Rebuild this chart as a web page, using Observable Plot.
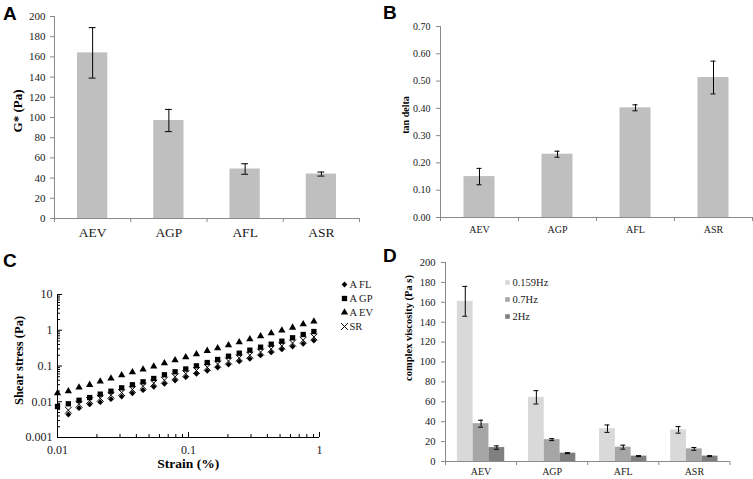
<!DOCTYPE html>
<html><head><meta charset="utf-8">
<script src="https://cdn.jsdelivr.net/npm/d3@7"></script>
<script src="https://cdn.jsdelivr.net/npm/@observablehq/plot@0.6"></script>
<style>
body{margin:0;background:#fff;}
#root{position:relative;width:753px;height:479px;overflow:hidden;background:#fff;}
#root svg{position:absolute;}
</style></head><body><div id="root"></div>
<script>
// ---------- data ----------
const categories = ["AEV", "AGP", "AFL", "ASR"];
const gStar = [164, 97, 49, 44];
const gStarErr = [25, 11, 5.2, 2];
const tanDelta = [0.150, 0.232, 0.402, 0.513];
const tanDeltaErr = [0.030, 0.011, 0.011, 0.060];
const frequencies = ["0.159Hz", "0.7Hz", "2Hz"];
const visc0159 = [161, 64.5, 33, 31.8];
const visc0159Err = [15, 6.7, 3.7, 3.3];
const visc07 = [38, 22, 14.4, 12.7];
const visc07Err = [3.5, 1, 2, 1.4];
const visc2 = [14, 8.4, 5.4, 5.4];
const visc2Err = [1.7, 0.5, 0.5, 0.5];
const seriesNames = ["A FL", "A GP", "A EV", "SR"];
const strain = [0.01, 0.0121, 0.0146, 0.0176, 0.0212, 0.0256, 0.0309, 0.0373, 0.045, 0.0543, 0.0655, 0.079, 0.0953, 0.115, 0.139, 0.167, 0.202, 0.244, 0.294, 0.355, 0.428, 0.516, 0.623, 0.751, 0.906];
const stressAFL = [null, 0.0044, 0.0066, 0.0084, 0.0097, 0.0118, 0.0140, 0.0173, 0.0210, 0.0262, 0.0318, 0.0393, 0.0486, 0.0605, 0.0734, 0.0908, 0.110, 0.134, 0.159, 0.197, 0.239, 0.290, 0.351, 0.418, 0.516];
const stressAGP = [0.00736, 0.00877, 0.0110, 0.0131, 0.0163, 0.0197, 0.0245, 0.0298, 0.0361, 0.0447, 0.0567, 0.0689, 0.0824, 0.101, 0.125, 0.152, 0.188, 0.228, 0.277, 0.336, 0.407, 0.494, 0.615, 0.76, 0.92];
const stressAEV = [0.0173, 0.0197, 0.0251, 0.0298, 0.0368, 0.0447, 0.0553, 0.0671, 0.0798, 0.0968, 0.120, 0.145, 0.176, 0.215, 0.266, 0.315, 0.382, 0.463, 0.562, 0.682, 0.827, 0.984, 1.19, 1.48, 1.76];
const stressSR = [null, 0.0058, 0.0085, 0.0108, 0.0125, 0.0152, 0.018, 0.022, 0.027, 0.033, 0.040, 0.050, 0.061, 0.075, 0.092, 0.113, 0.138, 0.168, 0.200, 0.246, 0.300, 0.365, 0.44, 0.53, 0.65];
const gStarTicks = [0, 20, 40, 60, 80, 100, 120, 140, 160, 180, 200];
const tanTicks = [0, 0.1, 0.2, 0.3, 0.4, 0.5, 0.6, 0.7];
const logYTicks = [0.001, 0.01, 0.1, 1, 10];
const logXTicks = [0.01, 0.1, 1];

// ---------- style ----------
const GRAY = "#8a8a8a", INK = "#1a1a1a";
const SERIF = '"Liberation Serif", "Times New Roman", serif';
const root = document.getElementById("root");
function place(svg, left, top) { svg.style.left = left + "px"; svg.style.top = top + "px"; root.appendChild(svg); }
const baseStyle = {fontFamily: SERIF, fontSize: "11px", color: INK, background: "transparent", overflow: "visible"};

function errorMarks(rows, capHalf) {
  const caps = rows.flatMap(d => [{...d, yc: d.value + d.err}, {...d, yc: d.value - d.err}]);
  return [
    Plot.ruleX(rows, {x: d => d.xc, y1: d => d.value - d.err, y2: d => d.value + d.err, stroke: "#000", strokeWidth: 1}),
    Plot.ruleY(caps, {y: "yc", x1: d => d.xc - capHalf, x2: d => d.xc + capHalf, stroke: "#000", strokeWidth: 1})
  ];
}
function catAxes(fontSize, pad) {
  return [
    Plot.ruleY([0], {stroke: GRAY}),
    Plot.axisX([0, 1, 2, 3, 4], {tickSize: 4, fill: "none", stroke: GRAY, label: null}),
    Plot.axisX([0.5, 1.5, 2.5, 3.5], {tickSize: 0, tickPadding: pad, fontSize, fill: INK, tickFormat: d => categories[Math.floor(d)], label: null})
  ];
}

// ---------- A ----------
const aRows = categories.map((c, i) => ({cat: c, i, xc: i + 0.5, value: gStar[i], err: gStarErr[i]}));
place(Plot.plot({
  width: 376, height: 240, marginLeft: 54, marginRight: 17, marginTop: 16, marginBottom: 22,
  style: baseStyle,
  x: {domain: [0, 4], label: null}, y: {domain: [0, 200], label: null},
  marks: [
    Plot.rectY(aRows, {x1: d => d.i, x2: d => d.i + 1, y: "value", fill: "#bfbfbf", insetLeft: 23, insetRight: 23}),
    ...errorMarks(aRows, 0.045),
    Plot.ruleX([0], {stroke: GRAY}),
    Plot.axisY(gStarTicks, {tickSize: 4, tickPadding: 5, stroke: GRAY, fill: INK, fontSize: 11, label: null}),
    ...catAxes(13.5, 9)
  ]
}), 0, 0);

// ---------- B ----------
const bRows = categories.map((c, i) => ({cat: c, i, xc: i + 0.5, value: tanDelta[i], err: tanDeltaErr[i]}));
place(Plot.plot({
  width: 377, height: 240, marginLeft: 64, marginRight: 1, marginTop: 26, marginBottom: 23,
  style: baseStyle,
  x: {domain: [0, 4], label: null}, y: {domain: [0, 0.7], label: null},
  marks: [
    Plot.rectY(bRows, {x1: d => d.i, x2: d => d.i + 1, y: "value", fill: "#bfbfbf", insetLeft: 23.5, insetRight: 23.5}),
    ...errorMarks(bRows, 0.032),
    Plot.ruleX([0], {stroke: GRAY}),
    Plot.axisY(tanTicks, {tickSize: 4, tickPadding: 6, stroke: GRAY, fill: INK, fontSize: 10, tickFormat: d3.format(".2f"), label: null}),
    ...catAxes(10, 8)
  ]
}), 376, 0);

// ---------- C ----------
const cStyles = [
  {name: "A FL", values: stressAFL, symbol: "diamond2", r: 2.6, filled: true},
  {name: "A GP", values: stressAGP, symbol: "square", r: 3.0, filled: true},
  {name: "A EV", values: stressAEV, symbol: "triangle", r: 2.7, filled: true},
  {name: "SR", values: stressSR, symbol: "times", r: 3.2, filled: false}
];
const cRows = cStyles.flatMap(s => strain.map((x, i) => ({series: s.name, strain: x, stress: s.values[i]})).filter(d => d.stress != null));
const yMinor = [0.001, 0.01, 0.1, 1].flatMap(d => [2, 3, 4, 5, 6, 7, 8, 9].map(k => d * k));
const xMinor = [0.01, 0.1].flatMap(d => [2, 3, 4, 5, 6, 7, 8, 9].map(k => d * k));
function symbolMark(data, s, extra = {}) {
  return Plot.dot(data, {...extra, symbol: s.symbol, r: s.r,
    fill: s.filled ? "#000" : "none", stroke: s.filled ? "none" : "#000", strokeWidth: 1});
}
place(Plot.plot({
  width: 376, height: 239, marginLeft: 57, marginRight: 57, marginTop: 54, marginBottom: 42,
  style: baseStyle,
  x: {type: "log", domain: [0.01, 1], label: null},
  y: {type: "log", domain: [0.001, 10], label: null},
  marks: [
    Plot.ruleX([0.01], {stroke: "#000"}),
    Plot.ruleY([0.001], {stroke: "#000"}),
    Plot.axisY(logYTicks, {tickSize: 0, tickPadding: 5, fill: INK, fontSize: 12, tickFormat: d => String(d), label: null}),
    Plot.axisY(yMinor, {tickSize: -3, fill: "none", stroke: "#000", label: null}),
    Plot.axisY(logYTicks, {tickSize: -5, fill: "none", stroke: "#000", label: null}),
    Plot.axisX(logXTicks, {tickSize: 0, tickPadding: 8, fill: INK, fontSize: 12, tickFormat: d => String(d), label: null}),
    Plot.axisX(xMinor, {tickSize: -3, fill: "none", stroke: "#000", label: null}),
    Plot.axisX(logXTicks, {tickSize: -5, fill: "none", stroke: "#000", label: null}),
    ...cStyles.map(s => symbolMark(cRows.filter(d => d.series === s.name), s, {x: "strain", y: "stress"}))
  ]
}), 0, 240);

// C legend
place(Plot.plot({
  width: 40, height: 52.7, margin: 5, axis: null,
  style: baseStyle,
  y: {type: "point", domain: seriesNames, padding: 0},
  marks: [
    ...cStyles.map(s => symbolMark([s.name], s, {y: d => d, frameAnchor: "left"})),
    Plot.text(seriesNames, {y: d => d, text: d => d, frameAnchor: "left", textAnchor: "start", dx: 5, fontSize: 10.5, fill: INK})
  ]
}), 339.3, 279.3);

// ---------- D ----------
const viscVals = [visc0159, visc07, visc2];
const viscErrs = [visc0159Err, visc07Err, visc2Err];
const barFrac = 0.222, groupStart = 0.5 - 1.5 * barFrac;
const dRows = frequencies.flatMap((f, j) => categories.map((c, i) => ({
  cat: c, freq: f, i, j, value: viscVals[j][i], err: viscErrs[j][i],
  x1: i + groupStart + j * barFrac, x2: i + groupStart + (j + 1) * barFrac,
  xc: i + groupStart + (j + 0.5) * barFrac
})));
const freqColors = ["#d9d9d9", "#a6a6a6", "#7f7f7f"];
place(Plot.plot({
  width: 377, height: 239, marginLeft: 69, marginRight: 23.6, marginTop: 22, marginBottom: 18,
  style: baseStyle,
  x: {domain: [0, 4], label: null}, y: {domain: [0, 200], label: null},
  color: {domain: frequencies, range: freqColors},
  marks: [
    Plot.rectY(dRows, {x1: "x1", x2: "x2", y: "value", fill: "freq"}),
    ...errorMarks(dRows, 0.035),
    Plot.ruleX([0], {stroke: GRAY}),
    Plot.axisY(gStarTicks, {tickSize: 4, tickPadding: 6, stroke: GRAY, fill: INK, fontSize: 10.5, label: null}),
    ...catAxes(10, 6)
  ]
}), 376, 240);

// D legend
place(Plot.plot({
  width: 60, height: 45.7, margin: 5, axis: null,
  style: baseStyle,
  y: {type: "point", domain: frequencies, padding: 0},
  color: {domain: frequencies, range: freqColors},
  marks: [
    Plot.dot(frequencies, {y: d => d, fill: d => d, symbol: "square", r: 2.6, frameAnchor: "left"}),
    Plot.text(frequencies, {y: d => d, text: d => d, frameAnchor: "left", textAnchor: "start", dx: 5, fontSize: 10.5, fill: INK})
  ]
}), 502, 276);

// ---------- panel letters & axis titles ----------
const ns = "http://www.w3.org/2000/svg";
const over = document.createElementNS(ns, "svg");
over.setAttribute("width", 753); over.setAttribute("height", 479);
over.style.left = "0px"; over.style.top = "0px"; over.style.pointerEvents = "none";
function addText(str, x, y, opts) {
  const t = document.createElementNS(ns, "text");
  t.textContent = str;
  t.setAttribute("font-family", opts.family || SERIF);
  t.setAttribute("font-size", opts.size);
  t.setAttribute("font-weight", "bold");
  t.setAttribute("fill", "#000");
  if (opts.rotate) {
    t.setAttribute("transform", `translate(${x},${y}) rotate(-90)`);
    t.setAttribute("text-anchor", "middle");
    t.setAttribute("dominant-baseline", "central");
  } else if (opts.center) {
    t.setAttribute("x", x); t.setAttribute("y", y);
    t.setAttribute("text-anchor", "middle");
    t.setAttribute("dominant-baseline", "central");
  } else {
    t.setAttribute("x", x); t.setAttribute("y", y);
  }
  over.appendChild(t);
}
const SANS = '"Liberation Sans", Arial, sans-serif';
addText("A", 3, 20, {family: SANS, size: 19});
addText("B", 383, 18.5, {family: SANS, size: 19});
addText("C", 3, 266.5, {family: SANS, size: 19});
addText("D", 383, 261.5, {family: SANS, size: 19});
addText("G* (Pa)", 17.5, 111, {size: 13, rotate: true});
addText("tan delta", 405.5, 115, {size: 10, rotate: true});
addText("Shear stress (Pa)", 19, 360.5, {size: 12.5, rotate: true});
addText("Strain (%)", 188.3, 463, {size: 13.5, center: true});
addText("complex viscosity (Pa s)", 408, 328, {size: 10.5, rotate: true});
root.appendChild(over);
</script></body></html>
